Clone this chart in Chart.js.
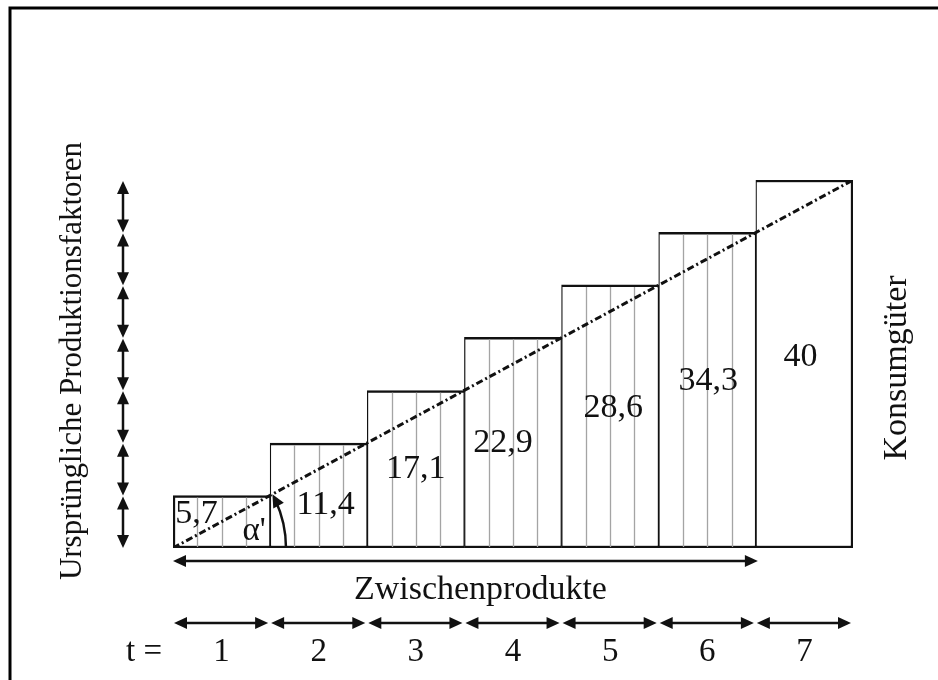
<!DOCTYPE html>
<html>
<head>
<meta charset="utf-8">
<script src="https://cdn.jsdelivr.net/npm/chart.js@4/dist/chart.umd.min.js"></script>
<style>
  html, body { margin: 0; padding: 0; background: #fff; }
  #wrap { width: 938px; height: 680px; position: relative; }
</style>
</head>
<body>
<div id="wrap"><canvas id="stages"></canvas></div>
<script>
// =================================================================
// Daten
// =================================================================
const periods = ['1', '2', '3', '4', '5', '6', '7'];
const stageValues = [5.7, 11.4, 17.1, 22.9, 28.6, 34.3, 40];
const stageLabels = ['5,7', '11,4', '17,1', '22,9', '28,6', '34,3', '40'];
const hatched = [true, true, true, true, true, true, false];
const diagonal = [{ x: 0, y: 0 }, { x: 7, y: 40 }];
const yMax = 40;

const leftTitle = 'Ursprüngliche Produktionsfaktoren';
const rightTitle = 'Konsumgüter';
const bottomTitle = 'Zwischenprodukte';
const periodPrefix = 't =';
const angleLabel = "α'";

// Feinjustierung der Wertebeschriftung (nur Layout)
const labelPlace = [
    { dx: -25, f: 0.35 }, { dx: 7, f: 0.59 }, { dx: 0, f: 0.5 }, { dx: -10, f: 0.5 },
    { dx: 3, f: 0.47 }, { dx: 1, f: 0.47 }, { dx: -4, f: 0.48 }
];

const SERIF = '"Liberation Serif", "DejaVu Serif", serif';
const INK = '#111';

function arrowHead(ctx, x, y, angle) {
    ctx.save();
    ctx.translate(x, y);
    ctx.rotate(angle);
    ctx.beginPath();
    ctx.moveTo(0, 0);
    ctx.lineTo(-13, -6);
    ctx.lineTo(-13, 6);
    ctx.closePath();
    ctx.fill();
    ctx.restore();
}

function doubleArrow(ctx, x1, y1, x2, y2) {
    const a = Math.atan2(y2 - y1, x2 - x1);
    ctx.beginPath();
    ctx.moveTo(x1 + Math.cos(a) * 8, y1 + Math.sin(a) * 8);
    ctx.lineTo(x2 - Math.cos(a) * 8, y2 - Math.sin(a) * 8);
    ctx.stroke();
    arrowHead(ctx, x2, y2, a);
    arrowHead(ctx, x1, y1, a + Math.PI);
}

/**
 * Schraffur, Beschriftungen, Pfeile und Rahmen
 */
const decorPlugin = {
    id: 'decor',
    afterDatasetDraw(chart, args) {
        if (args.index !== 0) return;
        const ctx = chart.ctx;
        ctx.save();
        ctx.strokeStyle = '#a4a4a4';
        ctx.lineWidth = 1.3;
        args.meta.data.forEach((bar, i) => {
            if (!hatched[i]) return;
            const p = bar.getProps(['x', 'y', 'base', 'width'], true);
            const left = p.x - p.width / 2;
            for (let j = 1; j < 4; j++) {
                const hx = Math.round(left + p.width * j / 4) + 0.5;
                ctx.beginPath();
                ctx.moveTo(hx, p.y + 2);
                ctx.lineTo(hx, p.base - 1);
                ctx.stroke();
            }
        });
        ctx.restore();
    },
    afterDraw(chart) {
        const ctx = chart.ctx;
        const xs = chart.scales.x2;
        const ys = chart.scales.y;
        const edge = i => xs.getPixelForValue(i);
        const base = ys.getPixelForValue(0);
        const top = ys.getPixelForValue(yMax);
        const n = periods.length;

        ctx.save();
        ctx.fillStyle = INK;
        ctx.strokeStyle = INK;
        ctx.textAlign = 'center';
        ctx.textBaseline = 'middle';

        // Werte in den Säulen
        ctx.font = '34px ' + SERIF;
        chart.getDatasetMeta(0).data.forEach((bar, i) => {
            const p = bar.getProps(['x', 'y', 'base'], true);
            const lp = labelPlace[i];
            ctx.fillText(stageLabels[i], p.x + lp.dx, p.y + (p.base - p.y) * lp.f);
        });

        // Winkel α'
        const theta = Math.atan2(base - top, edge(n) - edge(0));
        const r = 113;
        ctx.lineWidth = 2.5;
        ctx.beginPath();
        ctx.arc(edge(0), base, r, 0, -theta + 0.06, true);
        ctx.stroke();
        const tipX = edge(0) + r * Math.cos(-theta);
        const tipY = base + r * Math.sin(-theta);
        arrowHead(ctx, tipX, tipY, Math.atan2(-Math.cos(theta), -Math.sin(theta)));
        ctx.font = '33px ' + SERIF;
        ctx.fillText(angleLabel, edge(1) - 16, base - 17);

        // Pfeil Zwischenprodukte
        ctx.lineWidth = 2.5;
        doubleArrow(ctx, edge(0), base + 13, edge(n - 1) + 2, base + 13);
        ctx.font = '34px ' + SERIF;
        ctx.fillText(bottomTitle, (edge(0) + edge(n - 1)) / 2 + 16, base + 42);

        // Perioden
        ctx.font = '33px ' + SERIF;
        for (let i = 0; i < n; i++) {
            doubleArrow(ctx, edge(i) + 1, base + 75, edge(i + 1) - 2, base + 75);
            ctx.fillText(periods[i], (edge(i) + edge(i + 1)) / 2, base + 104);
        }
        ctx.textAlign = 'right';
        ctx.fillText(periodPrefix, edge(0) - 11, base + 104);

        // Ursprüngliche Produktionsfaktoren
        const unit = yMax / n;
        for (let k = 0; k < n; k++) {
            const yb = ys.getPixelForValue(unit * k);
            const yt = ys.getPixelForValue(unit * (k + 1));
            doubleArrow(ctx, edge(0) - 50, yb, edge(0) - 50, yt + 1);
        }
        ctx.textAlign = 'center';
        ctx.save();
        ctx.translate(edge(0) - 100, (base + top) / 2 - 3);
        ctx.rotate(-Math.PI / 2);
        ctx.font = '31px ' + SERIF;
        ctx.fillText(leftTitle, 0, 0);
        ctx.restore();

        ctx.save();
        ctx.translate(edge(n) + 44, (base + top) / 2 + 4);
        ctx.rotate(-Math.PI / 2);
        ctx.font = '34px ' + SERIF;
        ctx.fillText(rightTitle, 0, 0);
        ctx.restore();

        // Rahmen
        ctx.lineWidth = 3;
        ctx.strokeStyle = '#000';
        ctx.strokeRect(10, 8, 960, 720);
        ctx.restore();
    }
};

const lastIdx = periods.length - 1;

new Chart(document.getElementById('stages'), {
    type: 'bar',
    data: {
        labels: periods,
        datasets: [{
            label: 'Stufen',
            data: stageValues,
            backgroundColor: '#fff',
            borderColor: INK,
            borderWidth: ctx => ({
                top: 2.5,
                bottom: 2.5,
                left: ctx.dataIndex === 0 ? 2.5 : 1.25,
                right: ctx.dataIndex === lastIdx ? 2.5 : 1.25
            }),
            borderSkipped: false,
            grouped: false,
            categoryPercentage: 1,
            barPercentage: 1,
            order: 1
        }, {
            type: 'line',
            label: 'Diagonale',
            data: diagonal,
            xAxisID: 'x2',
            borderColor: INK,
            borderWidth: 3,
            borderDash: [7, 3, 2, 3],
            pointRadius: 0,
            fill: false,
            order: 0
        }]
    },
    options: {
        responsive: true,
        maintainAspectRatio: false,
        animation: false,
        layout: { padding: { left: 173, right: 85, top: 180, bottom: 132 } },
        plugins: { legend: { display: false }, tooltip: { enabled: false } },
        scales: {
            x: { display: false, offset: true, grid: { display: false } },
            x2: { type: 'linear', display: false, min: 0, max: 7, offset: false, grid: { offset: false } },
            y: { display: false, min: 0, max: yMax }
        }
    },
    plugins: [decorPlugin]
});
</script>
</body>
</html>
